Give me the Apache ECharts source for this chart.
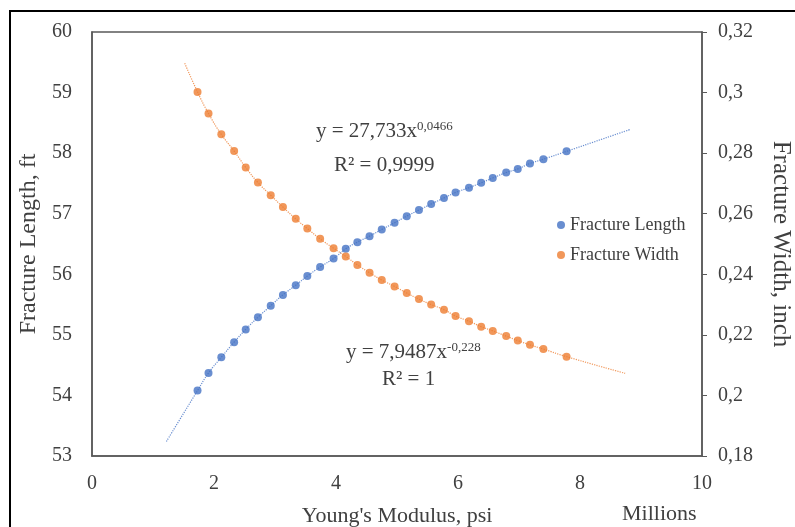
<!DOCTYPE html>
<html>
<head>
<meta charset="utf-8">
<script src="https://cdn.jsdelivr.net/npm/echarts@6/dist/echarts.min.js"></script>
<style>
html,body{margin:0;padding:0;background:#fff;}
#chart{width:795px;height:527px;}
</style>
</head>
<body>
<div id="chart"></div>
<script>
// Young's modulus, millions psi
var youngX = [1.73, 1.91, 2.12, 2.33, 2.52, 2.72, 2.93, 3.13, 3.34, 3.53,
	3.74, 3.96, 4.16, 4.35, 4.55, 4.75, 4.96, 5.16, 5.36, 5.56,
	5.77, 5.96, 6.18, 6.38, 6.57, 6.79, 6.98, 7.18, 7.40, 7.78];
// Fracture length, ft
var lengthY = [54.08, 54.37, 54.63, 54.88, 55.09, 55.29, 55.48, 55.66, 55.82, 55.97,
	56.12, 56.26, 56.42, 56.53, 56.63, 56.74, 56.85, 56.96, 57.06, 57.16,
	57.26, 57.35, 57.43, 57.51, 57.59, 57.68, 57.74, 57.83, 57.90, 58.03];
// Fracture width, inch
var widthY = [0.3002, 0.2931, 0.2862, 0.2807, 0.2753, 0.2703, 0.2661, 0.2622, 0.2583, 0.2551,
	0.2517, 0.2486, 0.2459, 0.2431, 0.2405, 0.2381, 0.2360, 0.2338, 0.2318, 0.2300,
	0.2283, 0.2262, 0.2245, 0.2227, 0.2213, 0.2196, 0.2181, 0.2167, 0.2153, 0.2128];
// trendline ends
var lengthTrendStart = [1.22, 53.24], lengthTrendEnd = [8.82, 58.39];
var widthTrendStart = [1.52, 0.3097], widthTrendEnd = [8.74, 0.2073];
var xTicks = [0, 2, 4, 6, 8, 10];

var FONT = "'Liberation Serif','Times New Roman',serif";
var TXT = '#404040';

function pairs(xs, ys){
	var out = [];
	for(var i=0;i<xs.length;i++) out.push([xs[i], ys[i]]);
	return out;
}
var lengthPts = pairs(youngX, lengthY);
var widthPts = pairs(youngX, widthY);
var lengthTrend = [lengthTrendStart].concat(lengthPts, [lengthTrendEnd]);
var widthTrend = [widthTrendStart].concat(widthPts, [widthTrendEnd]);

var myChart = echarts.init(document.getElementById('chart'));
var option = {
	backgroundColor: '#fff',
	animation: false,
	grid: {left: 92, top: 32, right: 93, bottom: 71, containLabel: false, outerBoundsMode: 'none',
		show: true, borderColor: '#595959', borderWidth: 1.5},
	xAxis: {
		type: 'value', min: xTicks[0], max: xTicks[xTicks.length-1], interval: 2,
		name: "Young's Modulus, psi", nameLocation: 'middle', nameGap: 49,
		nameTextStyle: {fontFamily: FONT, fontSize: 22, color: TXT},
		axisLine: {show: true, lineStyle: {color: '#595959', width: 1.5}},
		axisTick: {show: false},
		splitLine: {show: false},
		axisLabel: {fontFamily: FONT, fontSize: 20, color: TXT, margin: 18}
	},
	yAxis: [
		{
			type: 'value', min: 53, max: 60, interval: 1,
			name: 'Fracture Length, ft', nameLocation: 'middle', nameGap: 50,
			nameTextStyle: {fontFamily: FONT, fontSize: 24, color: TXT},
			axisLine: {show: true, lineStyle: {color: '#595959', width: 1.5}},
			axisTick: {show: false},
			splitLine: {show: false},
			axisLabel: {fontFamily: FONT, fontSize: 20, color: TXT, margin: 20}
		},
		{
			type: 'value', min: 0.18, max: 0.32, interval: 0.02, position: 'right',
			name: 'Fracture Width, inch', nameLocation: 'middle', nameGap: 66, nameRotate: -90,
			nameTextStyle: {fontFamily: FONT, fontSize: 25, color: TXT},
			axisLine: {show: true, lineStyle: {color: '#595959', width: 1.5}},
			axisTick: {show: true, length: 5, lineStyle: {color: '#595959'}},
			splitLine: {show: false},
			axisLabel: {
				fontFamily: FONT, fontSize: 20, color: TXT, margin: 16,
				formatter: function(v){ return String(+v.toFixed(2)).replace('.', ','); }
			}
		}
	],
	legend: {
		data: ['Fracture Length', 'Fracture Width'],
		orient: 'vertical', left: 552, top: 211,
		icon: 'circle', itemWidth: 8, itemHeight: 8, itemGap: 12,
		textStyle: {fontFamily: FONT, fontSize: 18, color: TXT}
	},
	graphic: [
		{type: 'rect', shape: {x: 10, y: 11, width: 800, height: 540}, style: {fill: 'none', stroke: '#000', lineWidth: 2}, silent: true},
		{type: 'text', left: 622, top: 503, style: {text: 'Millions', font: '22px ' + FONT, fill: TXT}},
		{type: 'text', left: 316, top: 120, style: {
			text: '{b|y = 27,733x}{s|0,0466}', fill: TXT,
			rich: {b: {fontFamily: FONT, fontSize: 21, color: TXT}, s: {fontFamily: FONT, fontSize: 13, color: TXT, verticalAlign: 'top', padding: [0,0,10,0]}}
		}},
		{type: 'text', left: 334, top: 155, style: {text: 'R² = 0,9999', font: '21px ' + FONT, fill: TXT}},
		{type: 'text', left: 346, top: 341, style: {
			text: '{b|y = 7,9487x}{s|-0,228}', fill: TXT,
			rich: {b: {fontFamily: FONT, fontSize: 21, color: TXT}, s: {fontFamily: FONT, fontSize: 13, color: TXT, verticalAlign: 'top', padding: [0,0,10,0]}}
		}},
		{type: 'text', left: 382, top: 369, style: {text: 'R² = 1', font: '21px ' + FONT, fill: TXT}}
	],
	series: [
		{
			name: 'Length trend', type: 'line', data: lengthTrend, yAxisIndex: 0,
			showSymbol: false, smooth: true, silent: true,
			lineStyle: {color: '#4472C4', width: 1.2, type: 'dotted', opacity: 0.8}, z: 1
		},
		{
			name: 'Width trend', type: 'line', data: widthTrend, yAxisIndex: 1,
			showSymbol: false, smooth: true, silent: true,
			lineStyle: {color: '#ED7D31', width: 1.2, type: 'dotted', opacity: 0.8}, z: 1
		},
		{
			name: 'Fracture Length', type: 'scatter', data: lengthPts, yAxisIndex: 0,
			symbolSize: 8, itemStyle: {color: '#4472C4'}, z: 3
		},
		{
			name: 'Fracture Width', type: 'scatter', data: widthPts, yAxisIndex: 1,
			symbolSize: 8, itemStyle: {color: '#ED7D31'}, z: 3
		}
	]
};
myChart.setOption(option);
</script>
</body>
</html>
